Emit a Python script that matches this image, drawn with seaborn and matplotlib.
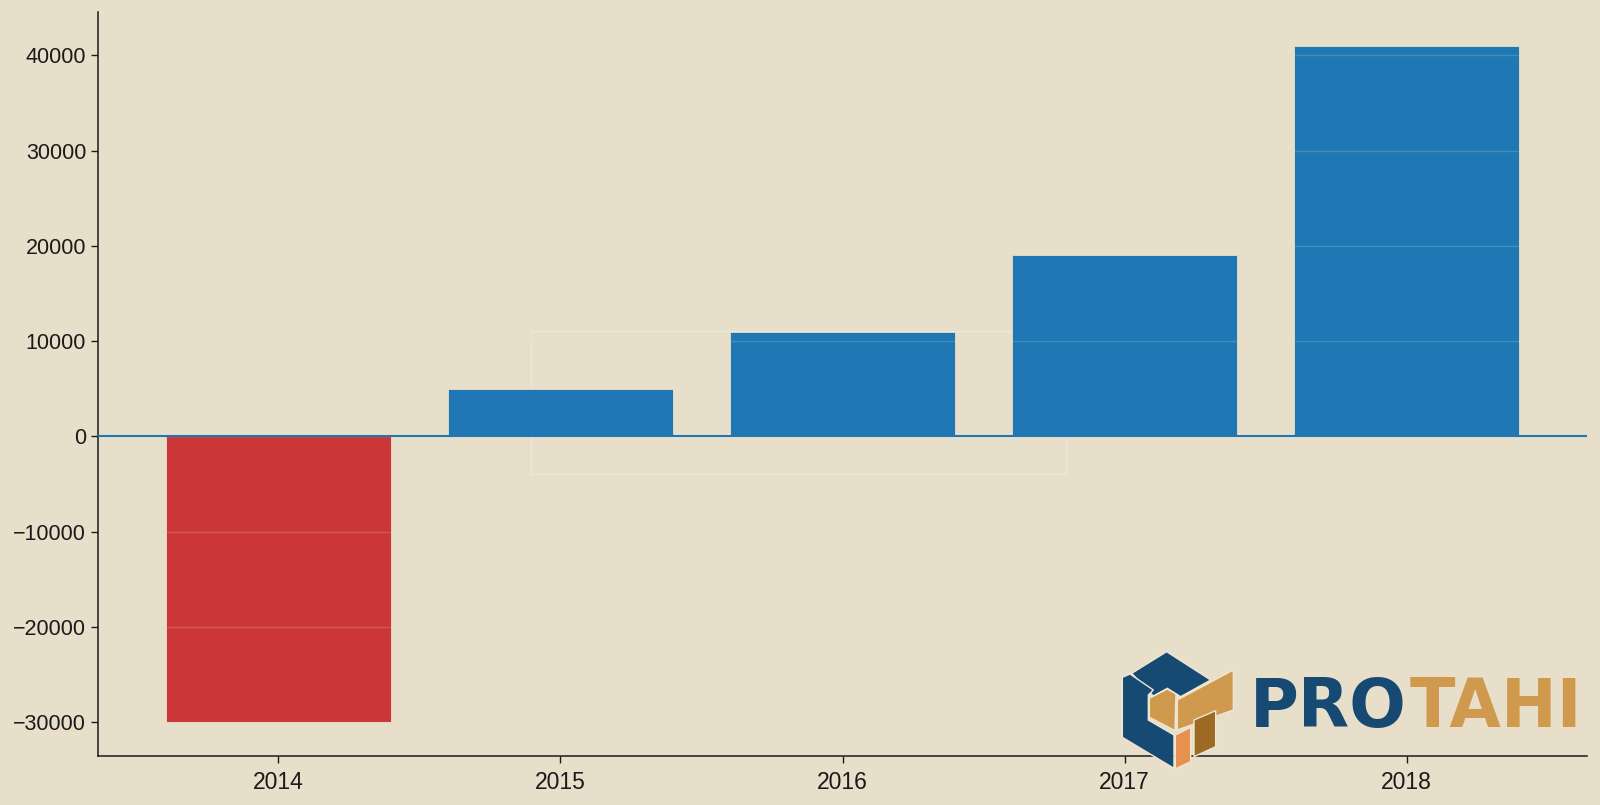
import matplotlib

matplotlib.use("Agg")

import matplotlib.pyplot as plt
import numpy as np
import pandas as pd
import seaborn as sns
from matplotlib.patches import Polygon, Rectangle

# Data
years = ["2014", "2015", "2016", "2017", "2018"]
values = [-30000, 5000, 11000, 19000, 41000]

BG = "#e8dfca"
BLUE = "#1f77b4"
RED = "#cb3636"

sns.set_theme(style="white")
plt.rcParams["font.family"] = ["Liberation Sans", "DejaVu Sans"]
plt.rcParams["figure.dpi"] = 100

df = pd.DataFrame({"year": years, "value": values})
colors = {y: (RED if v < 0 else BLUE) for y, v in zip(years, values)}

fig = plt.figure(figsize=(16, 8.05), facecolor=BG)
ax = fig.add_axes([98 / 1600, 1 - 756 / 805, (1587 - 98) / 1600, (756 - 12) / 805])
ax.set_facecolor(BG)

# overlay axes in pixel coordinates (for logo and faint frame)
ov = fig.add_axes([0, 0, 1, 1], zorder=5)
ov.set_xlim(0, 1600)
ov.set_ylim(805, 0)
ov.axis("off")
ov.patch.set_alpha(0)

sns.barplot(data=df, x="year", y="value", hue="year", palette=colors,
            legend=False, width=0.8, saturation=1, ax=ax,
            edgecolor=BG, linewidth=0.6, zorder=2)
ax.set_xlim(-0.64, len(years) - 1 + 0.64)

# faint frame sitting behind the bars
ax.add_patch(Rectangle((531, 331), 535, 143, fill=False, ec="#eee7d7", lw=1,
                       transform=ov.transData, zorder=1, clip_on=False))

ax.axhline(0, color=BLUE, lw=1.5, zorder=3)
ax.yaxis.grid(True, color=BG, alpha=0.2, lw=1, zorder=2.5)
ax.set_axisbelow(False)

ax.set_xlabel("")
ax.set_ylabel("")
ax.set_yticks(np.arange(-30000, 40001, 10000))
ax.tick_params(axis="both", colors="#1a1a1a", length=5,
               width=1, direction="out", bottom=True, left=True)
ax.tick_params(axis="y", labelsize=15.5)
ax.tick_params(axis="x", labelsize=16.5, pad=6)
for s in ["left", "bottom"]:
    ax.spines[s].set_color("#1a1a1a")
    ax.spines[s].set_linewidth(1.1)
sns.despine(ax=ax)


def pt(x, y):
    return (x / 3 + 1090, y / 3 + 620)


DARK = "#174a73"
TAN = "#d09a4e"
shapes = [
    ([(125, 160), (230, 95), (362, 180), (272, 230), (232, 205), (190, 228)], DARK),
    ([(97, 172), (120, 162), (190, 210), (175, 225), (175, 300), (252, 345),
      (252, 445), (97, 352)], DARK),
    ([(178, 235), (232, 207), (258, 222), (255, 332), (178, 292)], TAN),
    ([(262, 240), (430, 150), (430, 270), (262, 330)], TAN),
    ([(256, 345), (302, 322), (302, 425), (256, 447)], "#e8904e"),
    ([(312, 300), (377, 272), (377, 380), (312, 410)], "#9c6a22"),
]
for verts, c in shapes:
    ov.add_patch(Polygon([pt(*v) for v in verts], closed=True, fc=c,
                         ec="#efe7d4", lw=1))

ov.text(1250, 708, "PRO", color=DARK, fontsize=48, fontweight="bold",
        family=["DejaVu Sans"], va="center", ha="left")
ov.text(1582, 708, "TAHI", color=TAN, fontsize=48, fontweight="bold",
        family=["DejaVu Sans"], va="center", ha="right")

fig.savefig("out.png", dpi=100, facecolor=BG)
